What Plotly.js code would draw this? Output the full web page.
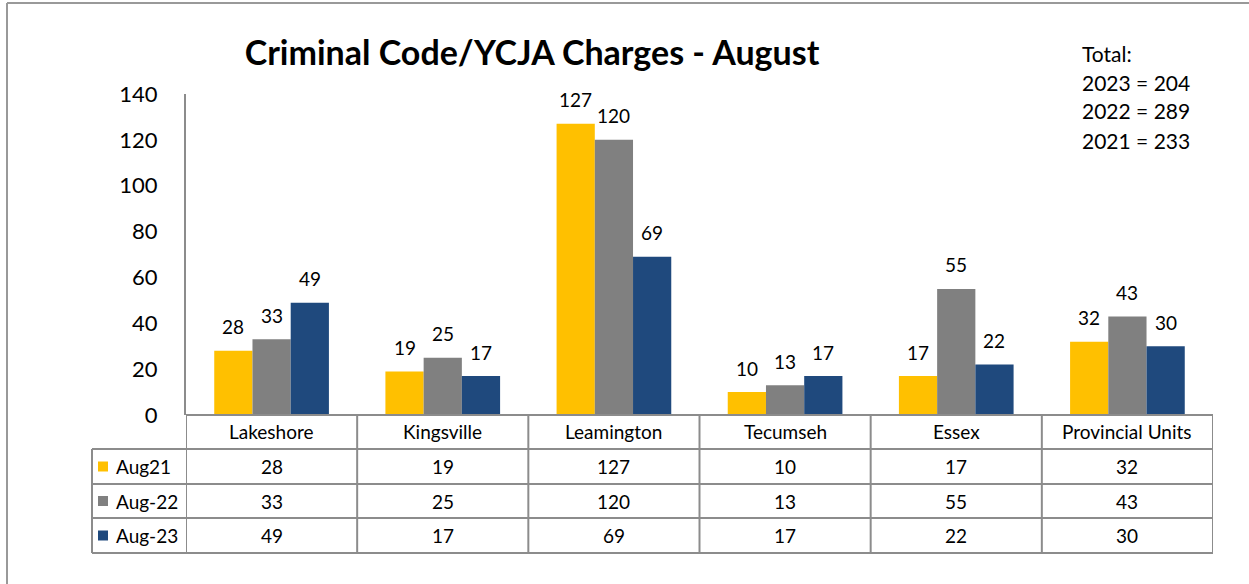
<!DOCTYPE html>
<html>
<head>
<meta charset="utf-8">
<script src="https://cdn.plot.ly/plotly-3.0.1.min.js"></script>
<style>
html,body{margin:0;padding:0;background:#fff;}
#chart{width:1249px;height:584px;}
</style>
</head>
<body>
<div id="chart"></div>
<script>
const categories = ["Lakeshore", "Kingsville", "Leamington", "Tecumseh", "Essex", "Provincial Units"];
const seriesNames = ["Aug21", "Aug-22", "Aug-23"];
const aug21 = [28, 19, 127, 10, 17, 32];
const aug22 = [33, 25, 120, 13, 55, 43];
const aug23 = [49, 17, 69, 17, 22, 30];
const totalYears = ["2023", "2022", "2021"];
const colors = ["#FFC000", "#808080", "#1F497D"];
const yTicks = [0, 20, 40, 60, 80, 100, 120, 140];

const FONT = "Lato, 'Open Sans', sans-serif";
const LINE = "#8c8c8c";
const series = [aug21, aug22, aug23];

// plot geometry (pixels)
const W = 1249, H = 584, L = 186, R = 1213, T = 94, B = 415;
const pw = R - L, ph = B - T;
const YMAX = 140;
const px2x = p => (p - L) / pw;
const py2y = p => (B - p) / ph;
const BARGAP = 0.33;

const traces = series.map((vals, i) => ({
  type: "bar",
  name: seriesNames[i],
  x: categories,
  y: vals,
  marker: {color: colors[i]},
  cliponaxis: false,
  hoverinfo: "x+y+name"
}));

const shapes = [];
const annotations = [];

// data labels above bars (centered over each grouped bar)
const barW = (1 - BARGAP) / series.length;
series.forEach((vals, s) => {
  const off = (s - (series.length - 1) / 2) * barW;
  vals.forEach((v, i) => {
    annotations.push({xref: "x", yref: "y", x: i + off, y: v, yshift: 24, text: String(v), showarrow: false, xanchor: "center", yanchor: "middle", font: {family: FONT, size: 19, color: "#000"}});
  });
});

// outer frame
shapes.push({type: "line", xref: "paper", yref: "paper", x0: px2x(7), x1: px2x(7), y0: py2y(3), y1: py2y(600), line: {color: "#999", width: 2}});
shapes.push({type: "line", xref: "paper", yref: "paper", x0: px2x(7), x1: px2x(1260), y0: py2y(3), y1: py2y(3), line: {color: "#999", width: 2}});

// table rows (y in px)
const rowEdges = [415, 449, 484, 518, 553];
const leftX = 92;
shapes.push({type: "line", xref: "paper", yref: "paper", x0: 0, x1: 1, y0: py2y(rowEdges[0]), y1: py2y(rowEdges[0]), line: {color: LINE, width: 2}});
for (let r = 1; r < rowEdges.length; r++) {
  shapes.push({type: "line", xref: "paper", yref: "paper", x0: px2x(leftX), x1: 1, y0: py2y(rowEdges[r]), y1: py2y(rowEdges[r]), line: {color: LINE, width: 2}});
}
for (let c = 0; c <= categories.length; c++) {
  shapes.push({type: "line", xref: "x", yref: "paper", x0: c - 0.5, x1: c - 0.5, y0: py2y(rowEdges[0]), y1: py2y(rowEdges[4]), line: {color: LINE, width: 2}});
}
shapes.push({type: "line", xref: "paper", yref: "paper", x0: px2x(leftX), x1: px2x(leftX), y0: py2y(rowEdges[1]), y1: py2y(rowEdges[4]), line: {color: LINE, width: 2}});

// header labels
categories.forEach((c, i) => {
  annotations.push({xref: "x", yref: "paper", x: i, y: py2y((rowEdges[0] + rowEdges[1]) / 2), text: c, showarrow: false, xanchor: "center", yanchor: "middle", font: {family: FONT, size: 19, color: "#000"}});
});
// rows
series.forEach((vals, r) => {
  const yc = py2y((rowEdges[r + 1] + rowEdges[r + 2]) / 2);
  vals.forEach((v, i) => {
    annotations.push({xref: "x", yref: "paper", x: i, y: yc, text: String(v), showarrow: false, xanchor: "center", yanchor: "middle", font: {family: FONT, size: 19, color: "#000"}});
  });
  shapes.push({type: "rect", xref: "paper", yref: "paper", x0: px2x(98), x1: px2x(108), y0: yc - 5 / ph, y1: yc + 5 / ph, fillcolor: colors[r], line: {width: 0}});
  annotations.push({xref: "paper", yref: "paper", x: px2x(114), y: yc, text: seriesNames[r], showarrow: false, xanchor: "left", yanchor: "middle", font: {family: FONT, size: 19, color: "#000"}});
});

// totals box
const sum = a => a.reduce((s, v) => s + v, 0);
const totals = [sum(aug23), sum(aug22), sum(aug21)];
const totalLines = ["Total:"].concat(totalYears.map((y, i) => y + " = " + totals[i]));
totalLines.forEach((t, i) => {
  annotations.push({xref: "paper", yref: "paper", x: px2x(1080), y: py2y([54, 82, 110, 140][i]), text: t, showarrow: false, xanchor: "left", yanchor: "middle", font: {family: FONT, size: 21, color: "#000"}});
});

const layout = {
  width: W, height: H,
  margin: {l: L, r: W - R, t: T, b: H - B, pad: 0},
  paper_bgcolor: "#fff",
  plot_bgcolor: "#fff",
  showlegend: false,
  barmode: "group",
  bargap: BARGAP,
  bargroupgap: 0,
  title: {text: "<b>Criminal Code/YCJA Charges - August</b>", x: 532 / W, xanchor: "center", xref: "container", y: 1 - 53 / H, yanchor: "middle", yref: "container", font: {family: FONT, size: 34, color: "#000"}},
  xaxis: {type: "category", range: [-0.5, categories.length - 0.5], showticklabels: false, showline: false, showgrid: false, zeroline: false, fixedrange: true},
  yaxis: {range: [0, YMAX], tickvals: yTicks, ticktext: yTicks.map(String), showline: true, linecolor: LINE, linewidth: 2, showgrid: false, zeroline: false, ticks: "", ticklabelstandoff: 22, tickfont: {family: FONT, size: 22, color: "#000"}, fixedrange: true},
  shapes: shapes,
  annotations: annotations
};

Plotly.newPlot("chart", traces, layout, {displayModeBar: false, staticPlot: true});
</script>
</body>
</html>
